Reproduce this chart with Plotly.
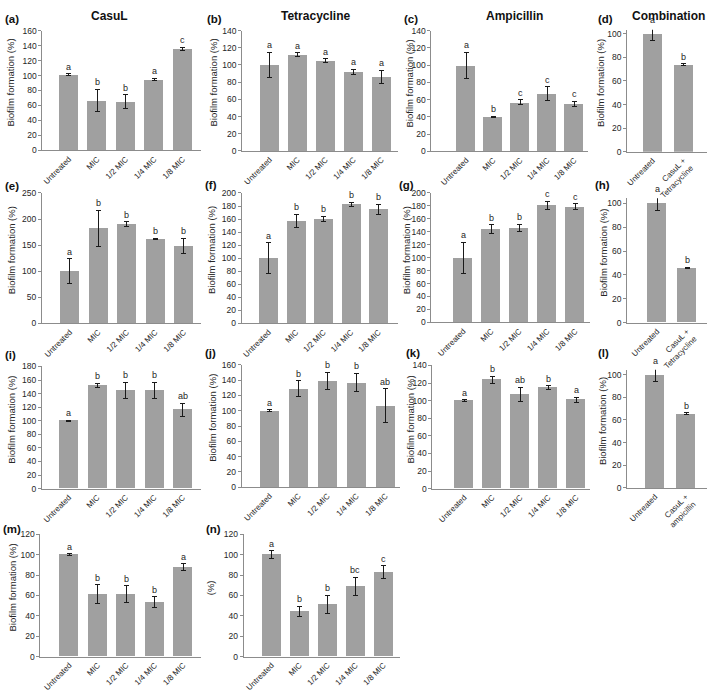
import plotly.graph_objects as go

W, H = 709, 698

conc = ["Untreated", "MIC", "1/2 MIC", "1/4 MIC", "1/8 MIC"]
combo_tet = ["Untreated", "CasuL +<br>Tetracycline"]
combo_amp = ["Untreated", "CasuL +<br>ampicillin"]

# row 1
a_mean = [101, 67, 65, 95, 136]
a_err = [1.5, 15, 9, 1.5, 2]
a_sig = ["a", "b", "b", "a", "c"]
b_mean = [100, 112, 105, 92, 86]
b_err = [15, 2.5, 2, 3, 8]
b_sig = ["a", "a", "a", "a", "a"]
c_mean = [100, 40, 57, 67, 55]
c_err = [15, 1, 3, 8, 3]
c_sig = ["a", "b", "c", "c", "c"]
d_mean = [100, 73.5]
d_err = [5.5, 0.8]
d_sig = ["a", "b"]
# row 2
e_mean = [100, 182, 190, 162, 148]
e_err = [24, 35, 5, 1.5, 15]
e_sig = ["a", "b", "b", "b", "b"]
f_mean = [100, 157, 160, 183, 175]
f_err = [24, 10, 4, 3, 8]
f_sig = ["a", "b", "b", "b", "b"]
g_mean = [100, 144, 146, 181, 179]
g_err = [24, 7, 6, 6, 4]
g_sig = ["a", "b", "b", "c", "c"]
h_mean = [100, 46]
h_err = [6, 0.5]
h_sig = ["a", "b"]
# row 3
i_mean = [100, 152, 145, 145, 116]
i_err = [1, 3, 12, 12, 10]
i_sig = ["a", "b", "b", "b", "ab"]
j_mean = [100, 129, 139, 137, 107]
j_err = [1, 10, 11, 12, 22]
j_sig = ["a", "b", "b", "b", "ab"]
k_mean = [100, 124, 107, 115, 101]
k_err = [1, 4, 8, 2, 3]
k_sig = ["a", "b", "ab", "b", "a"]
l_mean = [100, 65.5]
l_err = [6, 0.8]
l_sig = ["a", "b"]
# row 4
m_mean = [100, 61.5, 61.5, 53.5, 87.5]
m_err = [1, 9, 8, 5, 3.5]
m_sig = ["a", "b", "b", "b", "a"]
n_mean = [100, 44.5, 51, 69, 83]
n_err = [4, 5, 9, 9, 6]
n_sig = ["a", "b", "b", "bc", "c"]

ytitle = "Biofilm formation (%)"

# label, cats, mean, err, sig, axis top, dtick, tick max, x0, x1, c0, step, ypx top, ypx bottom, ytitle x, label pos, y title
panels = [
    ("(a)", conc, a_mean, a_err, a_sig, 160, 20, 160, 41.5, 200, 68, 28.5, 26, 147.5, 10, (2, 14), ytitle),
    ("(b)", conc, b_mean, b_err, b_sig, 140, 20, 140, 241.5, 398, 269, 28, 26, 148, 213, (204, 14), ytitle),
    ("(c)", conc, c_mean, c_err, c_sig, 140, 20, 140, 431, 588, 466, 27, 26, 148.5, 409, (402, 14), ytitle),
    ("(d)", combo_tet, d_mean, d_err, d_sig, 103.3, 20, 100, 627, 707, 652.5, 31, 25, 149, 601, (596, 14), ytitle),
    ("(e)", conc, e_mean, e_err, e_sig, 250, 50, 250, 41, 200, 69, 28.5, 190.7, 323, 10, (2, 184), ytitle),
    ("(f)", conc, f_mean, f_err, f_sig, 200, 20, 200, 241, 398, 268, 27.5, 190.7, 323, 211, (202, 183), ytitle),
    ("(g)", conc, g_mean, g_err, g_sig, 200, 20, 200, 431, 590, 463, 28, 190.7, 322, 406, (397, 183), ytitle),
    ("(h)", combo_tet, h_mean, h_err, h_sig, 104.4, 20, 100, 627, 707, 657, 30, 196, 322.3, 603, (593, 183), ytitle),
    ("(i)", conc, i_mean, i_err, i_sig, 180, 20, 180, 41, 200, 68, 28.5, 366.7, 490.7, 11, (2, 355), ytitle),
    ("(j)", conc, j_mean, j_err, j_sig, 160, 20, 160, 241, 400, 269, 29, 365, 489.3, 211, (202, 353), ytitle),
    ("(k)", conc, k_mean, k_err, k_sig, 140, 20, 140, 432, 590, 464, 28, 365.7, 490.7, 410, (404, 353), ytitle),
    ("(l)", combo_amp, l_mean, l_err, l_sig, 104.3, 20, 100, 627, 707, 655, 31, 370, 490, 603, (596, 353), ytitle),
    ("(m)", conc, m_mean, m_err, m_sig, 120, 20, 120, 39.5, 200, 68.5, 28.5, 537, 661, 12, (0, 532), ytitle),
    ("(n)", conc, n_mean, n_err, n_sig, 120, 20, 120, 243, 400, 271, 28, 537, 661, 210, (203, 532), "(%)"),
]

col_titles = [("CasuL", 109), ("Tetracycline", 315), ("Ampicillin", 514), ("Combination", 668)]

FONT = "Arial, Liberation Sans, sans-serif"
bar_col = "#a0a0a0"
axis_col = "#8c8c8c"
txt_col = "#262626"

fig = go.Figure()
annotations = []
layout = {}

for idx, (lab, cats, mean, err, sig, ytopv, dtick, tmax, x0, x1, c0, step,
          ypt, ypb, ytx, lpos, yt) in enumerate(panels, start=1):
    xa = "x" if idx == 1 else f"x{idx}"
    ya = "y" if idx == 1 else f"y{idx}"
    xs = list(range(len(cats)))
    fig.add_trace(go.Bar(
        x=xs, y=mean, xaxis=xa, yaxis=ya,
        width=19 / step,
        marker=dict(color=bar_col, line=dict(width=0)),
        error_y=dict(type="data", array=err, color="#1a1a1a", thickness=1, width=2.5),
        showlegend=False, hoverinfo="skip",
    ))
    layout["xaxis" if idx == 1 else f"xaxis{idx}"] = dict(
        domain=[x0 / W, x1 / W], anchor=ya,
        range=[(x0 - c0) / step, (x1 - c0) / step],
        tickvals=xs, ticktext=cats, tickangle=-45,
        tickfont=dict(size=8, color=txt_col, family=FONT),
        showline=True, linecolor=axis_col, linewidth=1,
        ticks="", showgrid=False, zeroline=False, fixedrange=True,
    )
    layout["yaxis" if idx == 1 else f"yaxis{idx}"] = dict(
        domain=[1 - ypb / H, 1 - ypt / H], anchor=xa,
        range=[0, ytopv], tickmode="array",
        tickvals=list(range(0, tmax + 1, dtick)),
        tickfont=dict(size=8.5, color=txt_col, family=FONT),
        showline=True, linecolor=axis_col, linewidth=1,
        ticks="outside", ticklen=3, tickcolor=axis_col,
        showgrid=False, zeroline=False, fixedrange=True,
    )
    # significance letters placed in paper space so they show even above the axis top
    y0p, y1p = 1 - ypb / H, 1 - ypt / H
    for i, s in enumerate(sig):
        top = mean[i] + err[i]
        annotations.append(dict(
            xref="paper", yref="paper",
            x=(c0 + i * step) / W, y=y0p + (y1p - y0p) * top / ytopv, text=s,
            showarrow=False, xanchor="center", yanchor="bottom",
            font=dict(size=9, color=txt_col, family=FONT),
        ))
    annotations.append(dict(
        xref="paper", yref="paper", x=lpos[0] / W, y=1 - lpos[1] / H, text="<b>" + lab + "</b>",
        showarrow=False, xanchor="left", yanchor="middle",
        font=dict(size=11.5, color="#111111", family=FONT),
    ))
    annotations.append(dict(
        xref="paper", yref="paper", x=ytx / W, y=1 - ((ypt + ypb) / 2 - 8) / H, text=yt,
        showarrow=False, textangle=-90, xanchor="center", yanchor="middle",
        font=dict(size=9.5, color=txt_col, family=FONT),
    ))

for t, cx in col_titles:
    annotations.append(dict(
        xref="paper", yref="paper", x=cx / W, y=1 - 11 / H, text="<b>" + t + "</b>",
        showarrow=False, xanchor="center", yanchor="middle",
        font=dict(size=12, color="#111111", family=FONT),
    ))

fig.update_layout(
    width=W, height=H,
    margin=dict(l=0, r=0, t=0, b=0),
    paper_bgcolor="white", plot_bgcolor="white",
    annotations=annotations,
    bargap=0,
    **layout,
)

# the page body has a default 8px margin; drop it so the figure sits at the window corner
fig.write_html("out.html", config={"displayModeBar": False},
               post_script="document.body.style.margin='0';")
